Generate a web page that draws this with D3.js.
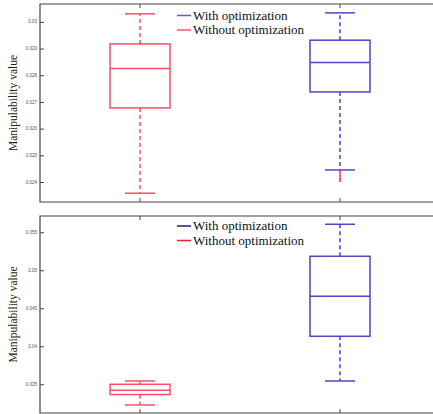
<!DOCTYPE html>
<html>
<head>
<meta charset="UTF-8">
<title>Manipulability</title>
<style>
  body { margin: 0; background: #fff; }
  svg { display: block; }
</style>
</head>
<body>
<svg id="chart"></svg>
<script src="https://cdn.jsdelivr.net/npm/d3@7"></script>
<script>
// boxes: [lower whisker, Q1, median, Q3, upper whisker]
const seriesNames = ['With optimization', 'Without optimization'];
const boxPos = { 'Without optimization': 1, 'With optimization': 2 };

const topWithout = [0.02358, 0.026775, 0.02825, 0.029175, 0.0303];
const topWith = [0.024451, 0.027375, 0.028474, 0.029314, 0.030337];
const topWithOutliers = [0.02442, 0.02432, 0.02422, 0.02412, 0.02404];
const topTicks = [0.024, 0.025, 0.026, 0.027, 0.028, 0.029, 0.03];

const botWithout = [0.032276, 0.033645, 0.03421, 0.035, 0.035434];
const botWith = [0.035434, 0.041316, 0.046579, 0.051842, 0.056053];
const botWithOutliers = [];
const botTicks = [0.035, 0.04, 0.045, 0.05, 0.055];

const width = 433, height = 414;
const svg = d3.select('#chart').attr('width', width).attr('height', height);

const x = d3.scaleLinear().domain([0.5, 2.5]).range([40, 440]);

const panels = [
  { top: 4, bottom: 202, domain: [0.02325, 0.03067], ticks: topTicks, fmt: d3.format('.3~f'),
    without: topWithout, with: topWith, outliers: topWithOutliers,
    legendColors: ['#6a52d0', '#ff5470'], legendY: 15.5 },
  { top: 216, bottom: 413, domain: [0.03122, 0.05714], ticks: botTicks, fmt: d3.format('.3~f'),
    without: botWithout, with: botWith, outliers: botWithOutliers,
    legendColors: ['#1a1a90', '#e8202e'], legendY: 226 }
];

const colWith = '#5b3fc9';
const colWithout = '#f8506a';

panels.forEach(p => {
  const y = d3.scaleLinear().domain(p.domain).range([p.bottom, p.top]);
  const g = svg.append('g');

  // frame
  g.append('path')
    .attr('d', `M${x(2.5)},${p.top}H${x(0.5)}V${p.bottom}H${x(2.5)}`)
    .attr('fill', 'none').attr('stroke', '#444').attr('stroke-width', 1.2);

  // y axis ticks (inward)
  const yAxis = d3.axisRight(y).tickValues(p.ticks).tickSize(4).tickFormat('');
  g.append('g').attr('transform', `translate(${x(0.5)},0)`).call(yAxis)
    .call(a => a.select('.domain').remove())
    .selectAll('line').attr('stroke', '#444');
  g.selectAll('.tl').data(p.ticks).enter().append('text')
    .attr('x', x(0.5) - 3).attr('y', d => y(d)).attr('dy', '0.35em')
    .attr('text-anchor', 'end')
    .style('font-family', 'Liberation Sans, sans-serif').style('font-size', '4.5px')
    .attr('fill', '#555').text(d => p.fmt(d));

  // x ticks at top and bottom, inward
  [1, 2].forEach(v => {
    g.append('line').attr('x1', x(v)).attr('x2', x(v)).attr('y1', p.top).attr('y2', p.top + 4)
      .attr('stroke', '#444');
    g.append('line').attr('x1', x(v)).attr('x2', x(v)).attr('y1', p.bottom).attr('y2', p.bottom - 4)
      .attr('stroke', '#444');
  });

  // y label
  g.append('text')
    .attr('transform', `translate(17,${(p.top + p.bottom) / 2}) rotate(-90)`)
    .attr('text-anchor', 'middle')
    .style('font-family', 'Liberation Serif, serif').style('font-size', '11.5px')
    .attr('fill', '#222').text('Manipulability value');

  // boxes
  const boxes = [
    { pos: boxPos['Without optimization'], s: p.without, color: colWithout },
    { pos: boxPos['With optimization'], s: p.with, color: colWith }
  ];
  const bw = 0.15, cw = 0.075;
  boxes.forEach(b => {
    const [lo, q1, med, q3, hi] = b.s;
    const bg = g.append('g').attr('stroke', b.color).attr('stroke-width', 1.5).attr('fill', 'none');
    bg.append('line').attr('x1', x(b.pos)).attr('x2', x(b.pos)).attr('y1', y(q3)).attr('y2', y(hi))
      .attr('stroke-dasharray', '4,3');
    bg.append('line').attr('x1', x(b.pos)).attr('x2', x(b.pos)).attr('y1', y(q1)).attr('y2', y(lo))
      .attr('stroke-dasharray', '4,3');
    bg.append('line').attr('x1', x(b.pos - cw)).attr('x2', x(b.pos + cw)).attr('y1', y(hi)).attr('y2', y(hi));
    bg.append('line').attr('x1', x(b.pos - cw)).attr('x2', x(b.pos + cw)).attr('y1', y(lo)).attr('y2', y(lo));
    bg.append('rect').attr('x', x(b.pos - bw)).attr('width', x(b.pos + bw) - x(b.pos - bw))
      .attr('y', y(q3)).attr('height', y(q1) - y(q3));
    bg.append('line').attr('x1', x(b.pos - bw)).attr('x2', x(b.pos + bw)).attr('y1', y(med)).attr('y2', y(med));
  });

  // outliers (red marks below the With whisker)
  g.selectAll('.out').data(p.outliers).enter().append('line')
    .attr('x1', x(2)).attr('x2', x(2))
    .attr('y1', d => y(d) - 1.2).attr('y2', d => y(d) + 1.2)
    .attr('stroke', '#ff2030').attr('stroke-width', 1.5);

  // legend
  seriesNames.forEach((name, i) => {
    const ly = p.legendY + i * 14.5;
    g.append('line').attr('x1', 177).attr('x2', 191).attr('y1', ly).attr('y2', ly)
      .attr('stroke', p.legendColors[i]).attr('stroke-width', 1.5);
    g.append('text').attr('x', 193).attr('y', ly).attr('dy', '0.33em')
      .style('font-family', 'Liberation Serif, serif').style('font-size', '13px')
      .attr('fill', '#111').text(name);
  });
});
</script>
</body>
</html>
